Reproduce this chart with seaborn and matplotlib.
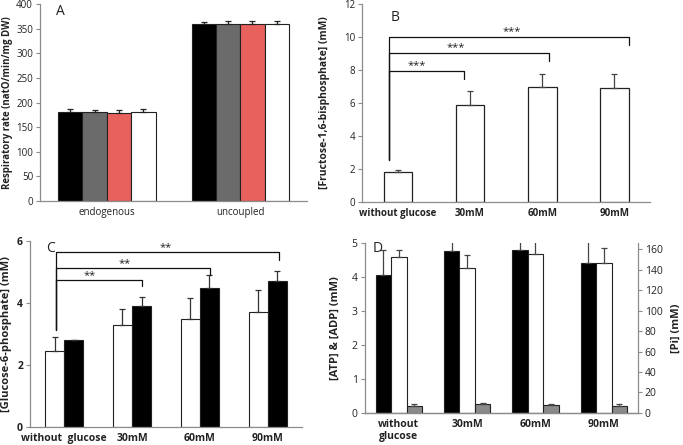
import numpy as np
import pandas as pd
import matplotlib
matplotlib.use("Agg")
import matplotlib.pyplot as plt
import seaborn as sns

## ------------------------------- datos -------------------------------
# Panel A
a_cats = ["endogenous", "uncoupled"]
a_series = ["s1", "s2", "s3", "s4"]
a_vals = [[181, 359], [180, 360], [179, 360], [181, 359]]
a_err = [[5, 5], [5, 5], [5, 5], [5, 6]]
a_colors = ["#000000", "#6b6b6b", "#e8625d", "#ffffff"]

# Panel B
b_cats = ["without glucose", "30mM", "60mM", "90mM"]
b_vals = [1.85, 5.9, 7.0, 6.9]
b_err = [0.1, 0.85, 0.75, 0.85]

# Panel C
c_cats = ["without  glucose", "30mM", "60mM", "90mM"]
c_white = [2.45, 3.3, 3.5, 3.7]
c_white_err = [0.45, 0.52, 0.67, 0.72]
c_black = [2.8, 3.9, 4.5, 4.7]
c_black_err = [0.02, 0.3, 0.4, 0.35]

# Panel D
d_cats = ["without\nglucose", "30mM", "60mM", "90mM"]
d_atp = [4.07, 4.77, 4.8, 4.42]
d_atp_err = [0.72, 0.45, 0.4, 0.65]
d_adp = [4.58, 4.25, 4.67, 4.42]
d_adp_err = [0.2, 0.4, 0.4, 0.43]
d_pi = [7.0, 9.0, 7.5, 7.0]
d_pi_err = [1.5, 1.2, 1.0, 1.5]

GRIS = "#8c8c8c"
TXT = "#222222"

sns.set_style("white")
plt.rcParams["font.family"] = ["Open Sans", "DejaVu Sans"]
plt.rcParams["axes.edgecolor"] = GRIS
plt.rcParams["axes.linewidth"] = 0.9


def estilo(ax, n, bold=False, size=7.5):
    ax.set_xlim(-0.5, n - 0.5)
    ax.spines["top"].set_visible(False)
    ax.spines["right"].set_visible(False)
    ax.set_xticks(np.arange(-0.5, n, 1.0), minor=True)
    ax.tick_params(axis="x", which="major", length=0, labelsize=size, colors=TXT, pad=4)
    ax.tick_params(axis="x", which="minor", length=3, color=GRIS, width=0.8)
    ax.tick_params(axis="y", length=3, color=GRIS, width=0.8, labelsize=size, labelcolor=TXT, pad=2, left=True)
    for t in ax.get_xticklabels():
        t.set_fontweight("bold" if bold else "normal")
    ax.set_xlabel("")


def barras_err(ax, errs, color="#222222"):
    # errores solo hacia arriba, en el orden en que seaborn dibuja las barras
    bars = [p for p in ax.patches if np.isfinite(p.get_height())]
    for p, e in zip(bars, errs):
        xc = p.get_x() + p.get_width() / 2
        ax.errorbar(xc, p.get_height(), yerr=[[0], [e]], fmt="none",
                    ecolor=color, elinewidth=0.9, capsize=2.5, capthick=0.9, zorder=3)


def corchete(ax, x0, x1, y, y_start, y_end, txt, tx, ty):
    ax.plot([x0, x0, x1, x1], [y_start, y, y, y_end], color="#111111", lw=0.9, zorder=4)
    ax.text(tx, ty, txt, ha="center", va="center", fontsize=8, color=TXT)


fig = plt.figure(figsize=(6.83, 4.45), dpi=100)
axA = fig.add_axes([0.0586, 0.548, 0.391, 0.443])
axB = fig.add_axes([0.530, 0.546, 0.422, 0.445])
axC = fig.add_axes([0.044, 0.040, 0.398, 0.418])
axD = fig.add_axes([0.534, 0.072, 0.400, 0.382])

##------------------------------- A -------------------------------
df_a = pd.DataFrame({
    "cat": np.tile(a_cats, len(a_series)),
    "serie": np.repeat(a_series, len(a_cats)),
    "val": np.ravel(a_vals),
})
sns.barplot(data=df_a, x="cat", y="val", hue="serie", order=a_cats, hue_order=a_series,
            palette=a_colors, saturation=1, width=0.73, edgecolor="#222222", linewidth=0.8,
            errorbar=None, legend=False, ax=axA, zorder=2)
barras_err(axA, np.ravel(a_err))
axA.set_ylim(0, 400)
axA.set_yticks(range(0, 401, 50))
estilo(axA, 2, bold=False, size=7)
axA.set_ylabel("Respiratory rate (natO/min/mg DW)", fontsize=7, fontweight="bold", color=TXT, labelpad=2)
axA.text(0.06, 0.96, "A", transform=axA.transAxes, fontsize=10, color=TXT, va="center")

##------------------------------- B -------------------------------
df_b = pd.DataFrame({"cat": b_cats, "val": b_vals})
sns.barplot(data=df_b, x="cat", y="val", order=b_cats, color="white", saturation=1, width=0.4,
            edgecolor="#222222", linewidth=0.9, errorbar=None, ax=axB, zorder=2)
barras_err(axB, b_err, color="#444444")
axB.set_ylim(0, 12)
axB.set_yticks(range(0, 13, 2))
estilo(axB, 4, bold=True, size=7)
axB.set_ylabel("[Fructose-1,6-bisphosphate] (mM)", fontsize=7.5, fontweight="bold", color=TXT, labelpad=10)
axB.text(0.1, 0.93, "B", transform=axB.transAxes, fontsize=10, color=TXT, va="center")
corchete(axB, -0.12, 0.92, 7.95, 2.55, 7.45, "***", 0.26, 8.25)
corchete(axB, -0.12, 2.1, 9.05, 2.55, 8.55, "***", 0.8, 9.35)
corchete(axB, -0.12, 3.2, 10.0, 2.55, 9.5, "***", 1.58, 10.3)

##------------------------------- C -------------------------------
df_c = pd.DataFrame({
    "cat": c_cats * 2,
    "serie": ["white"] * 4 + ["black"] * 4,
    "val": c_white + c_black,
})
sns.barplot(data=df_c, x="cat", y="val", hue="serie", order=c_cats, hue_order=["white", "black"],
            palette=["#ffffff", "#000000"], saturation=1, width=0.56, edgecolor="#222222", linewidth=0.8,
            errorbar=None, legend=False, ax=axC, zorder=2)
barras_err(axC, c_white_err + c_black_err, color="#333333")
axC.set_ylim(0, 6)
axC.set_yticks([0, 2, 4, 6])
estilo(axC, 4, bold=True, size=7.5)
for t in axC.get_yticklabels():
    t.set_fontweight("bold")
axC.set_ylabel("[Glucose-6-phosphate] (mM)", fontsize=8, fontweight="bold", color=TXT, labelpad=4)
axC.text(0.06, 0.96, "C", transform=axC.transAxes, fontsize=10, color=TXT, va="center")
corchete(axC, -0.12, 1.15, 4.76, 3.15, 4.55, "**", 0.38, 4.9)
corchete(axC, -0.12, 2.15, 5.14, 3.15, 4.9, "**", 0.89, 5.28)
corchete(axC, -0.12, 3.17, 5.65, 3.15, 5.4, "**", 1.49, 5.78)

##------------------------------- D -------------------------------
niveles = ["ATP", "ADP", "Pi"]
pal_d = {"ATP": "#000000", "ADP": "#ffffff", "Pi": "#8a8a8a"}
df_d = pd.DataFrame({
    "cat": d_cats * 2,
    "serie": ["ATP"] * 4 + ["ADP"] * 4,
    "val": d_atp + d_adp,
})
sns.barplot(data=df_d, x="cat", y="val", hue="serie", order=d_cats, hue_order=niveles,
            palette=pal_d, saturation=1, width=0.68, dodge=True, edgecolor="#222222", linewidth=0.8,
            errorbar=None, legend=False, ax=axD, zorder=2)
barras_err(axD, d_atp_err + d_adp_err, color="#444444")
axD.set_ylim(0, 5)
axD.set_yticks(range(0, 6))
estilo(axD, 4, bold=True, size=7.5)
axD.set_ylabel("[ATP] & [ADP] (mM)", fontsize=8, fontweight="bold", color=TXT, labelpad=8)
axD.text(0.03, 0.97, "D", transform=axD.transAxes, fontsize=10, color=TXT, va="center")

axD2 = axD.twinx()
df_pi = pd.DataFrame({"cat": d_cats, "serie": ["Pi"] * 4, "val": d_pi})
sns.barplot(data=df_pi, x="cat", y="val", hue="serie", order=d_cats, hue_order=niveles,
            palette=pal_d, saturation=1, width=0.68, dodge=True, edgecolor="#222222", linewidth=0.8,
            errorbar=None, legend=False, ax=axD2, zorder=2)
barras_err(axD2, d_pi_err, color="#444444")
axD2.set_ylim(0, 166)
axD2.set_yticks(range(0, 161, 20))
axD2.set_xlim(-0.5, 3.5)
axD2.spines["top"].set_visible(False)
axD2.spines["left"].set_visible(False)
axD2.tick_params(axis="y", length=3, color=GRIS, width=0.8, labelsize=7.5, labelcolor=TXT, pad=2, right=True)
axD2.set_ylabel("[Pi] (mM)", fontsize=8, fontweight="bold", color=TXT, labelpad=6)

fig.savefig("out.png", dpi=100)
